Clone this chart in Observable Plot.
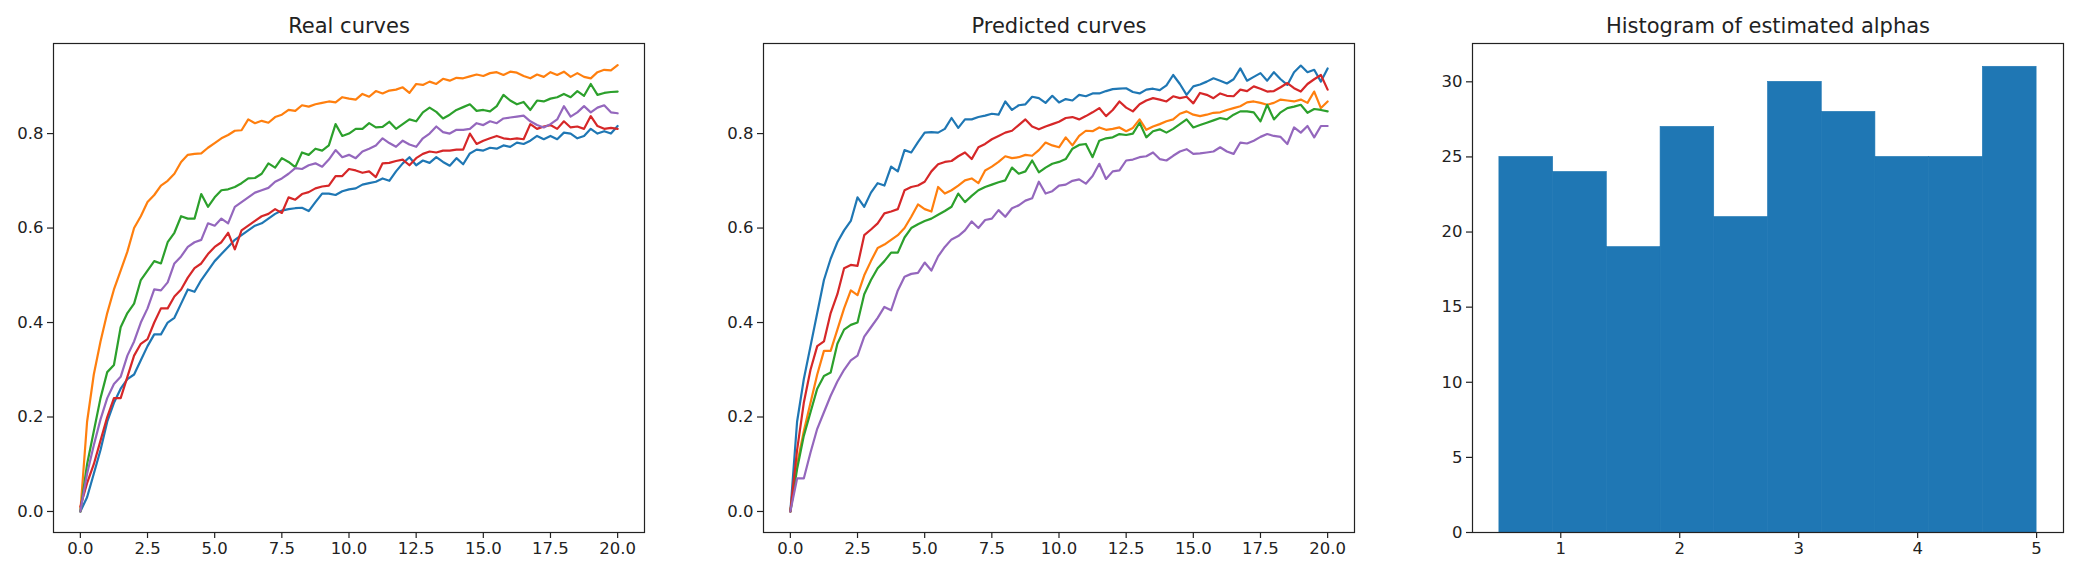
<!DOCTYPE html>
<html><head><meta charset="utf-8">
<script src="https://cdn.jsdelivr.net/npm/d3@7"></script>
<script src="https://cdn.jsdelivr.net/npm/@observablehq/plot@0.6"></script>
<style>
html,body{margin:0;padding:0;background:#fff;}
#wrap{position:relative;width:2078px;height:570px;overflow:hidden;background:#fff;}
#wrap > svg{position:absolute;top:0;}
</style></head><body><div id="wrap"></div>
<script>
// sampling grid of the curves (x = 0 .. 20)
const xGrid = d3.range(81).map(i => i * 0.25);
const seriesNames = ["curve 1", "curve 2", "curve 3", "curve 4", "curve 5"];
const seriesColors = ["#1f77b4", "#ff7f0e", "#2ca02c", "#d62728", "#9467bd"];

// ---- Real curves ----
const realBlue = [
0,0.03,0.08,0.13,0.19,0.23,0.26,0.28,0.29,0.32,
0.35,0.375,0.375,0.40,0.41,0.44,0.47,0.465,0.49,0.51,
0.53,0.545,0.56,0.575,0.585,0.595,0.605,0.61,0.62,0.63,
0.637,0.64,0.642,0.643,0.636,0.655,0.673,0.673,0.67,0.678,
0.682,0.684,0.692,0.695,0.698,0.705,0.7,0.72,0.737,0.75,
0.733,0.743,0.738,0.75,0.74,0.732,0.748,0.735,0.758,0.766,
0.764,0.77,0.768,0.775,0.772,0.781,0.778,0.785,0.795,0.788,
0.795,0.788,0.802,0.8,0.79,0.795,0.81,0.8,0.805,0.8,0.816];
const realOrange = [
0,0.19,0.29,0.36,0.42,0.47,0.51,0.55,0.60,0.625,
0.655,0.67,0.69,0.70,0.715,0.74,0.755,0.757,0.758,0.77,
0.78,0.79,0.797,0.806,0.807,0.83,0.822,0.827,0.823,0.835,
0.84,0.85,0.848,0.86,0.857,0.862,0.865,0.868,0.866,0.877,
0.874,0.872,0.884,0.878,0.89,0.885,0.891,0.893,0.898,0.886,
0.905,0.903,0.91,0.905,0.916,0.912,0.918,0.917,0.921,0.925,
0.922,0.928,0.93,0.924,0.931,0.929,0.922,0.917,0.925,0.92,
0.93,0.924,0.931,0.92,0.928,0.92,0.917,0.93,0.935,0.934,0.945];
const realGreen = [
0,0.10,0.17,0.24,0.295,0.31,0.39,0.42,0.44,0.49,
0.51,0.53,0.525,0.57,0.59,0.625,0.62,0.62,0.672,0.645,
0.665,0.68,0.682,0.687,0.695,0.705,0.706,0.715,0.737,0.728,
0.748,0.74,0.729,0.76,0.755,0.768,0.764,0.775,0.82,0.795,
0.8,0.81,0.81,0.822,0.813,0.814,0.825,0.81,0.82,0.83,
0.826,0.845,0.855,0.846,0.832,0.84,0.85,0.856,0.862,0.848,
0.85,0.847,0.858,0.882,0.87,0.862,0.867,0.85,0.87,0.868,
0.874,0.877,0.884,0.877,0.89,0.88,0.905,0.882,0.886,0.888,0.889];
const realRed = [
0.01,0.06,0.10,0.15,0.20,0.24,0.24,0.285,0.33,0.355,
0.365,0.40,0.43,0.43,0.455,0.47,0.495,0.515,0.525,0.545,
0.56,0.57,0.59,0.555,0.595,0.605,0.615,0.625,0.63,0.64,
0.632,0.665,0.66,0.672,0.676,0.684,0.688,0.69,0.71,0.71,
0.725,0.722,0.717,0.72,0.708,0.737,0.738,0.742,0.745,0.733,
0.748,0.757,0.762,0.76,0.764,0.764,0.766,0.766,0.8,0.778,
0.785,0.79,0.795,0.79,0.788,0.79,0.788,0.82,0.81,0.815,
0.818,0.81,0.826,0.813,0.815,0.81,0.837,0.816,0.81,0.812,0.81];
const realPurple = [
0,0.08,0.14,0.195,0.24,0.27,0.285,0.33,0.36,0.40,
0.43,0.47,0.468,0.485,0.525,0.54,0.56,0.57,0.575,0.61,
0.605,0.62,0.61,0.645,0.655,0.665,0.675,0.68,0.685,0.698,
0.705,0.715,0.727,0.725,0.733,0.737,0.73,0.745,0.765,0.75,
0.755,0.748,0.762,0.768,0.775,0.79,0.78,0.772,0.785,0.777,
0.772,0.79,0.8,0.815,0.803,0.8,0.808,0.808,0.81,0.822,
0.818,0.826,0.822,0.832,0.834,0.836,0.838,0.826,0.818,0.813,
0.82,0.83,0.858,0.836,0.845,0.858,0.845,0.855,0.86,0.845,0.843];

// ---- Predicted curves ----
const predBlue = [
0,0.19,0.28,0.35,0.42,0.49,0.535,0.57,0.595,0.615,
0.665,0.645,0.675,0.695,0.69,0.73,0.72,0.765,0.76,0.782,
0.802,0.803,0.802,0.81,0.833,0.812,0.83,0.83,0.835,0.838,
0.842,0.84,0.868,0.85,0.86,0.862,0.878,0.875,0.865,0.88,
0.866,0.873,0.87,0.882,0.879,0.885,0.885,0.89,0.894,0.895,
0.896,0.888,0.885,0.893,0.895,0.892,0.902,0.924,0.905,0.882,
0.9,0.904,0.91,0.917,0.912,0.906,0.915,0.938,0.912,0.92,
0.928,0.912,0.93,0.915,0.903,0.93,0.944,0.93,0.935,0.91,0.938];
const predOrange = [
0,0.10,0.17,0.23,0.29,0.34,0.34,0.385,0.43,0.468,
0.458,0.5,0.53,0.558,0.565,0.575,0.585,0.6,0.624,0.65,
0.64,0.635,0.687,0.673,0.68,0.69,0.701,0.705,0.695,0.722,
0.73,0.74,0.752,0.748,0.75,0.755,0.753,0.765,0.781,0.775,
0.771,0.792,0.775,0.795,0.806,0.805,0.813,0.808,0.81,0.813,
0.805,0.812,0.83,0.808,0.815,0.82,0.826,0.83,0.842,0.847,
0.84,0.837,0.84,0.844,0.845,0.85,0.854,0.858,0.866,0.868,
0.865,0.861,0.865,0.872,0.87,0.868,0.872,0.865,0.889,0.854,0.868];
const predGreen = [
0,0.09,0.16,0.21,0.26,0.287,0.294,0.355,0.385,0.395,
0.40,0.46,0.49,0.515,0.53,0.548,0.548,0.58,0.6,0.608,
0.615,0.62,0.628,0.636,0.645,0.673,0.655,0.668,0.68,0.687,
0.692,0.697,0.701,0.728,0.715,0.72,0.743,0.718,0.728,0.736,
0.74,0.746,0.768,0.776,0.778,0.75,0.785,0.79,0.792,0.799,
0.797,0.8,0.823,0.792,0.805,0.809,0.802,0.81,0.82,0.83,
0.813,0.818,0.823,0.828,0.833,0.83,0.84,0.847,0.847,0.845,
0.826,0.861,0.83,0.845,0.854,0.857,0.861,0.844,0.852,0.85,0.847];
const predRed = [
0,0.13,0.23,0.30,0.35,0.36,0.42,0.46,0.515,0.522,
0.52,0.585,0.597,0.61,0.631,0.635,0.64,0.68,0.687,0.69,
0.698,0.72,0.735,0.74,0.742,0.752,0.76,0.746,0.771,0.778,
0.788,0.795,0.802,0.806,0.818,0.83,0.815,0.809,0.815,0.82,
0.825,0.833,0.835,0.83,0.837,0.845,0.854,0.837,0.85,0.868,
0.855,0.847,0.862,0.87,0.875,0.872,0.868,0.879,0.875,0.878,
0.864,0.886,0.882,0.875,0.885,0.88,0.879,0.893,0.89,0.9,
0.895,0.889,0.89,0.898,0.907,0.896,0.889,0.905,0.915,0.924,0.893];
const predPurple = [
0,0.07,0.07,0.125,0.175,0.21,0.245,0.275,0.3,0.32,
0.33,0.37,0.39,0.41,0.433,0.426,0.468,0.497,0.503,0.505,
0.527,0.51,0.54,0.56,0.576,0.583,0.595,0.614,0.6,0.617,
0.62,0.638,0.624,0.642,0.648,0.658,0.663,0.698,0.673,0.678,
0.69,0.692,0.7,0.703,0.694,0.71,0.736,0.704,0.72,0.722,
0.743,0.745,0.75,0.752,0.76,0.746,0.743,0.753,0.762,0.767,
0.757,0.758,0.76,0.762,0.771,0.762,0.757,0.781,0.779,0.785,
0.793,0.799,0.795,0.793,0.778,0.813,0.802,0.816,0.792,0.816,0.816];

// ---- Histogram of estimated alphas ----
const binEdges = [0.484, 0.936, 1.387, 1.839, 2.29, 2.742, 3.194, 3.645, 4.097, 4.548, 5.0];
const binCounts = [25, 24, 19, 27, 21, 30, 28, 25, 25, 31];

// tick labels
const curveYTicks = [0, 0.2, 0.4, 0.6, 0.8];
const curveXTicks = [0, 2.5, 5, 7.5, 10, 12.5, 15, 17.5, 20];
const alphaTicks = [1, 2, 3, 4, 5];
const countTicks = [0, 5, 10, 15, 20, 25, 30];

const titles = ["Real curves", "Predicted curves", "Histogram of estimated alphas"];

const wrap = document.getElementById("wrap");
const baseStyle = {fontFamily: "'DejaVu Sans', sans-serif", fontSize: "16.5px", color: "#222", background: "transparent", overflow: "visible"};

function longFormat(arrays) {
  return arrays.flatMap((vals, s) => vals.map((v, i) => ({x: xGrid[i], y: v, s: seriesNames[s]})));
}

function place(svg, left) {
  svg.style.left = left + "px";
  wrap.appendChild(svg);
}

function curvePanel(title, arrays, left) {
  const data = longFormat(arrays);
  const svg = Plot.plot({
    width: 700, height: 570,
    marginLeft: 53, marginRight: 56, marginTop: 43, marginBottom: 38,
    style: baseStyle,
    x: {domain: [-1, 21]},
    y: {domain: [-0.0445, 0.9907]},
    color: {type: "ordinal", domain: seriesNames, range: seriesColors},
    marks: [
      Plot.line(data, {x: "x", y: "y", z: "s", stroke: "s", strokeWidth: 2.2}),
      Plot.frame({stroke: "#222", strokeWidth: 1.2}),
      Plot.axisX({ticks: curveXTicks, tickFormat: d3.format(".1f"), tickSize: 6, tickPadding: 4, strokeWidth: 1.2, label: null}),
      Plot.axisY({ticks: curveYTicks, tickFormat: d3.format(".1f"), tickSize: 6, tickPadding: 4, strokeWidth: 1.2, label: null}),
      Plot.text([title], {text: d => d, frameAnchor: "top", lineAnchor: "bottom", dy: -11, fontSize: 21, fill: "#222"})
    ]
  });
  place(svg, left);
}

curvePanel(titles[0], [realBlue, realOrange, realGreen, realRed, realPurple], 0);
curvePanel(titles[1], [predBlue, predOrange, predGreen, predRed, predPurple], 710);

const bins = binCounts.map((c, i) => ({x1: binEdges[i], x2: binEdges[i + 1], count: c}));
const hist = Plot.plot({
  width: 658, height: 570,
  marginLeft: 52, marginRight: 15, marginTop: 43, marginBottom: 38,
  style: baseStyle,
  x: {domain: [0.258, 5.226]},
  y: {domain: [0, 32.55]},
  marks: [
    Plot.rectY(bins, {x1: "x1", x2: "x2", y: "count", fill: "#1f77b4", stroke: "#1f77b4", strokeWidth: 0.6}),
    Plot.frame({stroke: "#222", strokeWidth: 1.2}),
    Plot.axisX({ticks: alphaTicks, tickFormat: d3.format("d"), tickSize: 6, tickPadding: 4, strokeWidth: 1.2, label: null}),
    Plot.axisY({ticks: countTicks, tickFormat: d3.format("d"), tickSize: 6, tickPadding: 4, strokeWidth: 1.2, label: null}),
    Plot.text([titles[2]], {text: d => d, frameAnchor: "top", lineAnchor: "bottom", dy: -11, fontSize: 21, fill: "#222"})
  ]
});
place(hist, 1420);
</script></body></html>
